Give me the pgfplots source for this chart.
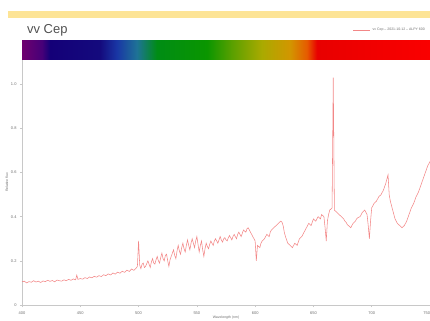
\documentclass[border=0pt]{standalone}
\usepackage{fontspec}
\setmainfont{Liberation Sans}
\usepackage{pgfplots}
\pgfplotsset{compat=1.18}
\definecolor{specline}{RGB}{238,95,95}
\definecolor{yellowbar}{RGB}{253,228,150}
\definecolor{titlegray}{RGB}{80,80,80}
\definecolor{axgray}{RGB}{200,200,200}
\definecolor{labgray}{RGB}{110,110,110}
\definecolor{sp0}{RGB}{110,0,110}
\definecolor{sp1}{RGB}{70,0,120}
\definecolor{sp2}{RGB}{20,0,120}
\definecolor{sp3}{RGB}{20,10,125}
\definecolor{sp4}{RGB}{25,55,165}
\definecolor{sp5}{RGB}{30,115,150}
\definecolor{sp6}{RGB}{0,140,20}
\definecolor{sp7}{RGB}{10,150,0}
\definecolor{sp8}{RGB}{90,160,0}
\definecolor{sp9}{RGB}{170,170,0}
\definecolor{sp10}{RGB}{210,150,0}
\definecolor{sp11}{RGB}{230,90,0}
\definecolor{sp12}{RGB}{232,0,0}
\definecolor{sp13}{RGB}{250,0,0}
\pgfdeclarehorizontalshading{spec}{100bp}{color(0bp)=(sp0); color(25bp)=(sp0); color(27.45bp)=(sp1); color(28.43bp)=(sp2); color(34.56bp)=(sp3); color(36.64bp)=(sp4); color(39.09bp)=(sp5); color(41.54bp)=(sp6); color(47.67bp)=(sp7); color(50.74bp)=(sp8); color(54.41bp)=(sp9); color(57.84bp)=(sp10); color(59.93bp)=(sp11); color(61.15bp)=(sp12); color(75bp)=(sp13); color(100bp)=(sp13)}
\begin{document}
\begin{tikzpicture}[x=1bp,y=1bp]
\useasboundingbox (0,0) rectangle (430,321);
\fill[yellowbar] (8,303) rectangle (430,310);
\node[anchor=west, font=\fontsize{13}{14}\selectfont, text=titlegray, inner sep=0pt] at (27,291) {vv Cep};
\shade[shading=spec] (22,261) rectangle (430,280);
\begin{axis}[
  at={(22bp,16bp)}, anchor=south west,
  scale only axis, width=408bp, height=245bp,
  xmin=400, xmax=750, ymin=0, ymax=1.11,
  axis x line=bottom, axis y line=left,
  axis line style={-, draw=axgray, line width=0.6pt},
  xtick={400,450,...,750},
  xticklabels={400,450,500,550,600,650,700,\llap{750}},
  ytick={0,0.2,0.4,0.6,0.8,1.0},
  yticklabels={0,0.2,0.4,0.6,0.8,1.0},
  tick style={draw=axgray, line width=0.5pt},
  tick align=outside, major tick length=2bp,
  /pgf/number format/assume math mode=true,
  ticklabel style={font=\fontsize{4}{5}\selectfont, text=labgray},
  xticklabel style={yshift=-1bp},
  xlabel={Wavelength (nm)}, ylabel={Relative flux},
  label style={font=\fontsize{3.5}{4}\selectfont, text=labgray},
  xlabel style={yshift=5bp},
  ylabel style={yshift=-4bp},
  legend style={at={(rel axis cs:1,1)}, anchor=south east, yshift=24bp, draw=none, fill=none, font=\fontsize{3.5}{4}\selectfont, text=labgray},
  legend cell align=left,
  clip=false,
]
\addplot[specline, line width=0.55pt, opacity=0.75] coordinates {
(400,0.105)(402,0.108)(404,0.100)(406,0.106)(408,0.103)(410,0.110)(412,0.104)(414,0.108)(416,0.102)(418,0.109)
(420,0.106)(422,0.112)(424,0.107)(426,0.111)(428,0.105)(430,0.113)(432,0.110)(434,0.108)(436,0.114)(438,0.110)
(440,0.116)(442,0.112)(444,0.118)(446,0.114)(447,0.135)(448,0.116)(450,0.120)(452,0.117)(454,0.124)(456,0.120)
(458,0.127)(460,0.123)(462,0.130)(464,0.126)(466,0.133)(468,0.129)(470,0.137)(472,0.133)(474,0.141)(476,0.136)
(478,0.145)(480,0.140)(482,0.149)(484,0.144)(486,0.153)(488,0.148)(490,0.158)(492,0.152)(494,0.163)(496,0.157)
(498,0.168)(499,0.175)(500,0.29)(501,0.18)(502,0.165)(503,0.185)(504,0.19)(505,0.17)(506,0.175)(508,0.20)(509,0.185)(510,0.17)(511,0.195)(512,0.21)
(513,0.19)(514,0.185)(515,0.205)(516,0.22)(517,0.20)(518,0.19)(519,0.215)(520,0.235)(521,0.21)(522,0.20)(523,0.225)(524,0.23)(525,0.20)(526,0.175)(527,0.205)(528,0.22)(529,0.235)(530,0.25)(531,0.225)(532,0.21)
(533,0.245)(534,0.27)(535,0.245)(536,0.23)(537,0.26)(538,0.28)(539,0.255)(540,0.24)(541,0.27)(542,0.295)(543,0.27)(544,0.25)(545,0.28)(546,0.30)(547,0.28)(548,0.26)(549,0.29)(550,0.31)(551,0.275)(552,0.24)
(553,0.27)(554,0.29)(555,0.25)(556,0.22)(557,0.255)(558,0.28)(559,0.265)(560,0.255)(561,0.275)(562,0.29)(563,0.28)(564,0.27)(565,0.29)(566,0.30)(567,0.29)(568,0.28)(569,0.295)(570,0.31)(571,0.295)(572,0.285)
(573,0.30)(574,0.305)(575,0.295)(576,0.29)(577,0.305)(578,0.315)(579,0.305)(580,0.295)(581,0.31)(582,0.32)(583,0.31)(584,0.30)(585,0.32)(586,0.33)(587,0.32)(588,0.31)(589,0.325)(590,0.34)(591,0.335)(592,0.33)
(593,0.345)(594,0.35)(595,0.34)(596,0.33)(597,0.32)(598,0.31)(599,0.30)(600,0.29)(601,0.20)(602,0.27)(603,0.265)(604,0.26)(605,0.28)(606,0.29)(607,0.295)(608,0.30)(609,0.31)(610,0.32)
(611,0.315)(612,0.31)(613,0.33)(614,0.34)(615,0.345)(616,0.35)(617,0.355)(618,0.36)(619,0.365)(620,0.37)(621,0.375)(622,0.38)(623,0.375)(624,0.36)(625,0.33)(626,0.31)(627,0.295)(628,0.28)
(629,0.275)(630,0.27)(631,0.265)(632,0.26)(633,0.27)(634,0.28)(635,0.275)(636,0.27)(637,0.285)(638,0.30)(639,0.305)(640,0.31)(641,0.32)(642,0.33)(643,0.34)(644,0.35)(645,0.36)(646,0.37)(647,0.365)(648,0.36)
(649,0.375)(650,0.39)(651,0.385)(652,0.38)(653,0.39)(654,0.40)(655,0.395)(656,0.39)(657,0.41)(658,0.405)(659,0.40)(660,0.35)(661,0.29)(662,0.38)(663,0.41)(664,0.43)
(665,0.435)(666,0.44)(667,1.03)(668,0.43)(669,0.425)(670,0.42)(671,0.415)(672,0.41)(673,0.405)(674,0.40)(675,0.395)(676,0.39)(677,0.38)(678,0.375)(679,0.365)(680,0.36)(681,0.355)(682,0.35)
(683,0.36)(684,0.37)(685,0.375)(686,0.38)(687,0.39)(688,0.395)(689,0.398)(690,0.40)(691,0.41)(692,0.42)(693,0.425)(694,0.43)(695,0.42)(696,0.41)(697,0.36)(698,0.30)(699,0.38)
(700,0.44)(701,0.45)(702,0.46)(703,0.465)(704,0.47)(705,0.48)(706,0.49)(707,0.495)(708,0.50)(709,0.51)(710,0.52)(711,0.535)(712,0.55)(713,0.57)(714,0.59)(715,0.50)(716,0.47)
(717,0.45)(718,0.43)(719,0.41)(720,0.39)(721,0.38)(722,0.37)(723,0.365)(724,0.36)(725,0.355)(726,0.35)(727,0.355)(728,0.36)(729,0.37)(730,0.38)(731,0.395)(732,0.41)(733,0.425)(734,0.44)(735,0.45)(736,0.46)
(737,0.475)(738,0.49)(739,0.50)(740,0.51)(741,0.525)(742,0.54)(743,0.555)(744,0.57)(745,0.585)(746,0.60)(747,0.615)(748,0.63)(749,0.64)(750,0.65)
};
\addlegendentry{vv Cep -- 2021-10-12 -- ALPY 600}
\end{axis}
\end{tikzpicture}
\end{document}
